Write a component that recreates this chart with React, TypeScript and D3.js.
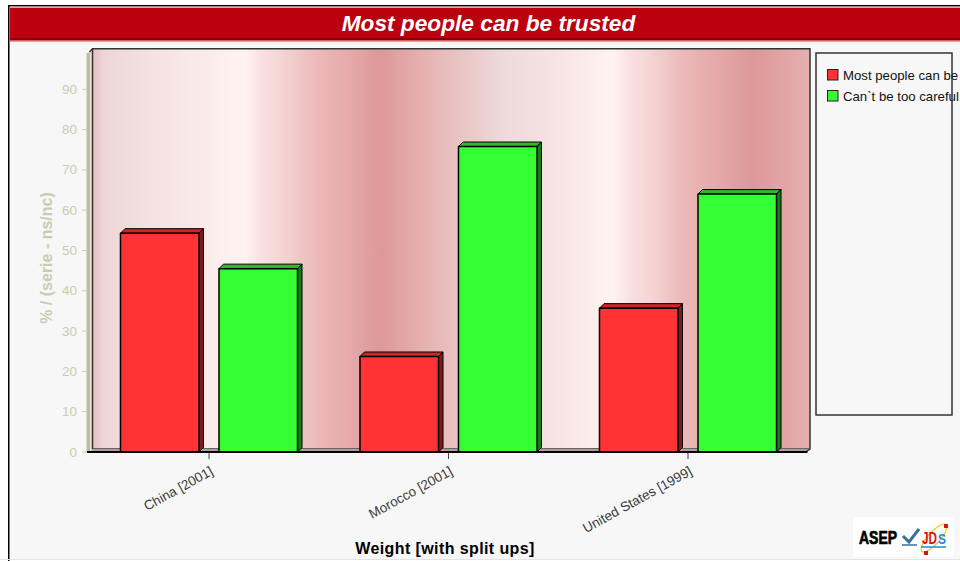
import React from "react";
import * as d3 from "d3";

const categories = ["China [2001]", "Morocco [2001]", "United States [1999]"];
const seriesNames = ["Most people can be trusted", "Can`t be too careful"];
const trustedValues = [54.3, 23.7, 35.7];
const carefulValues = [45.5, 75.8, 64.0];
const yTicks = [0, 10, 20, 30, 40, 50, 60, 70, 80, 90];

const seriesValues = [trustedValues, carefulValues];
const seriesFront = ["#ff3333", "#33ff33"];
const seriesTop = ["#c92626", "#2eb82e"];
const seriesSide = ["#7f1a1a", "#127f12"];

// Horizontal banding on the back wall: [x position, colour]
const wallStops: [number, string][] = [
  [93, "#e8c0c0"], [104, "#edd6d6"], [140, "#f3dfdf"], [245, "#fff3f2"],
  [262, "#fae0e0"], [285, "#f4d2d2"], [318, "#ecb9b9"], [351, "#e5a9a9"],
  [381, "#dd9898"], [418, "#e6aeae"], [452, "#e9c0c0"], [483, "#edcfcf"],
  [500, "#eed9d9"], [550, "#f6e2e2"], [613, "#fff3f2"], [630, "#fae0e0"],
  [650, "#f5d5d5"], [683, "#ecb9b9"], [717, "#e5a9a9"], [753, "#dd9898"],
  [810, "#e5b0b0"],
];

const WALL = { left: 93, right: 810, top: 49, floor: 449 };
const DEPTH = 4.5;
const AXIS_COLOR = "#bcbf9f";
const LABEL_COLOR = "#c9ccb0";
const SANS = "'Liberation Sans', Arial, sans-serif";

const y = d3.scaleLinear().domain([0, 100]).range([452, 49]);
const xBand = d3.scaleBand<string>().domain(categories).range([89.25, 807.75]);
const xSeries = d3
  .scaleBand<string>()
  .domain(seriesNames)
  .range([0, xBand.bandwidth()])
  .paddingInner(0.203)
  .paddingOuter(0.317);
const wallX = d3.scaleLinear().domain([WALL.left, WALL.right]).range([0, 1]);

export default function App() {
  return (
    <svg
      width={960}
      height={561}
      viewBox="0 0 960 561"
      style={{ position: "fixed", left: 0, top: 0, display: "block", background: "#ffffff" }}
    >
      <defs>
        <linearGradient id="wall" x1="0" x2="1" y1="0" y2="0">
          {wallStops.map(([pos, color]) => (
            <stop key={pos} offset={wallX(pos)} stopColor={color} />
          ))}
        </linearGradient>
      </defs>

      {/* Frame and panel */}
      <rect x={8} y={5} width={960} height={554} fill="#f7f7f7" />
      <path d="M8.75 561V5.75H960" fill="none" stroke="#000" strokeWidth={1.5} />
      <line x1={0} x2={960} y1={559.5} y2={559.5} stroke="#e4e4e4" />

      {/* Title banner */}
      <rect x={10} y={6.5} width={950} height={1.5} fill="#d8a8a8" />
      <rect x={10} y={8} width={950} height={30} fill="#bb000e" />
      <rect x={10} y={38} width={950} height={2.5} fill="#880008" />
      <rect x={10} y={40.5} width={950} height={1} fill="#ee4444" />
      <text
        x={488.5}
        y={30.5}
        textAnchor="middle"
        fill="#fff"
        fontFamily={SANS}
        fontSize={22.7}
        fontWeight="bold"
        fontStyle="italic"
      >
        Most people can be trusted
      </text>

      {/* Back wall, left wall and floor */}
      <rect x={89} y={52} width={5} height={398} fill="#efe0d8" />
      <rect x={WALL.left} y={WALL.top} width={WALL.right - WALL.left} height={WALL.floor - WALL.top} fill="url(#wall)" />
      <path
        d={`M${WALL.left} ${WALL.floor}H${WALL.right}L${WALL.right - DEPTH} ${y(0)}H${WALL.left - DEPTH}Z`}
        fill="#b09a9a"
      />
      <rect x={86.5} y={53} width={3.5} height={399} fill={AXIS_COLOR} />
      <path d="M92.5 49V449" stroke="#333" strokeWidth={1.5} fill="none" />
      <path
        d={`M89.5 52L92.5 48.8H${WALL.right}V${WALL.floor}L${WALL.right - DEPTH} ${y(0)}`}
        fill="none"
        stroke="#333"
        strokeWidth={1.5}
      />
      <path d={`M${WALL.left} ${WALL.floor - 0.5}H${WALL.right}`} stroke="#666" strokeWidth={1} />

      {/* Bars */}
      {categories.map((cat, ci) => (
        <g key={cat} transform={`translate(${xBand(cat)},0)`}>
          {seriesNames.map((name, si) => {
            const x0 = xSeries(name)!;
            const w = xSeries.bandwidth();
            const top = y(seriesValues[si][ci]);
            const base = y(0);
            return (
              <g key={name} stroke="#000" strokeLinejoin="round">
                <path
                  d={`M${x0} ${top}L${x0 + DEPTH} ${top - DEPTH}H${x0 + w + DEPTH}L${x0 + w} ${top}Z`}
                  fill={seriesTop[si]}
                  strokeWidth={1}
                />
                <path
                  d={`M${x0 + w} ${top}L${x0 + w + DEPTH} ${top - DEPTH}V${base - DEPTH}L${x0 + w} ${base}Z`}
                  fill={seriesSide[si]}
                  strokeWidth={1}
                />
                <rect x={x0} y={top} width={w} height={base - top} fill={seriesFront[si]} strokeWidth={1.5} />
              </g>
            );
          })}
        </g>
      ))}

      {/* Axis baseline */}
      <line x1={87} x2={WALL.right - DEPTH + 2} y1={y(0)} y2={y(0)} stroke="#000" strokeWidth={2} />

      {/* Y axis */}
      {yTicks.map((t) => (
        <g key={t}>
          <line x1={82} x2={87} y1={y(t)} y2={y(t)} stroke={LABEL_COLOR} strokeWidth={1} />
          <text x={77} y={y(t) + 4.5} textAnchor="end" fill={LABEL_COLOR} fontFamily={SANS} fontSize={13.5}>
            {t}
          </text>
        </g>
      ))}
      <text
        transform="translate(52,258) rotate(-90)"
        textAnchor="middle"
        fill={LABEL_COLOR}
        fontFamily={SANS}
        fontSize={16}
        fontWeight="bold"
      >
        % / (serie - ns/nc)
      </text>

      {/* X axis */}
      {categories.map((cat) => {
        const cx = xBand(cat)! + xBand.bandwidth() / 2;
        return (
          <g key={cat}>
            <line x1={cx} x2={cx} y1={453} y2={459} stroke="#444" strokeWidth={1} />
            <text
              transform={`translate(${cx + 5},474) rotate(-29)`}
              textAnchor="end"
              fill="#3a3a3a"
              fontFamily={SANS}
              fontSize={13.5}
            >
              {cat}
            </text>
          </g>
        );
      })}
      <text
        x={445}
        y={554}
        textAnchor="middle"
        fill="#000"
        fontFamily={SANS}
        fontSize={16}
        fontWeight="bold"
        letterSpacing={0.4}
      >
        Weight [with split ups]
      </text>

      {/* Legend: entries run past the box edge */}
      <rect x={816} y={53} width={136} height={362} fill="#f7f7f7" />
      {seriesNames.map((name, si) => (
        <g key={name}>
          <rect
            x={827.5}
            y={69.5 + si * 21}
            width={10.5}
            height={10.5}
            fill={seriesFront[si]}
            stroke="#222"
            strokeWidth={1}
          />
          <text x={843} y={79.5 + si * 21} fill="#111" fontFamily={SANS} fontSize={13.2}>
            {name}
          </text>
        </g>
      ))}
      <rect x={816} y={53} width={136} height={362} fill="none" stroke="#333" strokeWidth={1.5} />

      {/* Publisher marks */}
      <g>
        <rect x={853} y={517} width={101} height={40} fill="#fff" />
        <text
          x={859}
          y={544}
          fill="#000"
          stroke="#000"
          strokeWidth={0.7}
          fontFamily={SANS}
          fontSize={18}
          fontWeight="bold"
          textLength={38}
          lengthAdjust="spacingAndGlyphs"
        >
          ASEP
        </text>
        <path d="M903 536L909 542L919 529" fill="none" stroke="#3a6ea5" strokeWidth={3} />
        <line x1={902} x2={917} y1={545} y2={545} stroke="#3a6ea5" strokeWidth={1.5} />
        <ellipse cx={934} cy={538} rx={18} ry={6} fill="none" stroke="#f5c518" strokeWidth={1.2} transform="rotate(-48 934 538)" />
        <text x={922} y={544} fontFamily={SANS} fontSize={17} fontWeight="bold" fill="#e01010" textLength={15} lengthAdjust="spacingAndGlyphs">
          JD
        </text>
        <text x={938} y={544} fontFamily={SANS} fontSize={14} fontWeight="bold" fill="#1e88e5" textLength={8} lengthAdjust="spacingAndGlyphs">
          S
        </text>
        <line x1={921} x2={946} y1={547} y2={547} stroke="#1e88e5" strokeWidth={1.5} />
        <rect x={944} y={524} width={4} height={4} fill="#e01010" />
        <rect x={924} y={551} width={4} height={4} fill="#e01010" />
      </g>
    </svg>
  );
}
